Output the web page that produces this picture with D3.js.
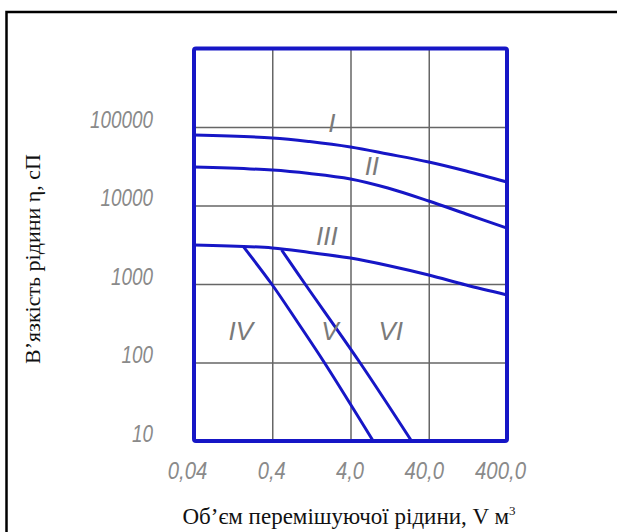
<!DOCTYPE html>
<html>
<head>
<meta charset="utf-8">
<script src="https://cdn.jsdelivr.net/npm/d3@7"></script>
<style>
  body { margin: 0; background: #fff; }
  svg { display: block; }
  .tick-lbl { font-family: "Liberation Sans", sans-serif; font-style: italic; fill: #8a8a8a; }
  .roman { font-family: "Liberation Sans", sans-serif; font-style: italic; fill: #7a7a7a; }
  .title { font-family: "Liberation Serif", serif; fill: #111; }
</style>
</head>
<body>
<div id="chart"></div>
<script>
// tick values and labels
const xTicks = [0.04, 0.4, 4, 40, 400];
const xTickLabels = ["0,04", "0,4", "4,0", "40,0", "400,0"];
const yTicks = [10, 100, 1000, 10000, 100000];
const yTickLabels = ["10", "100", "1000", "10000", "100000"];

// curves I, II, III (volume -> viscosity)
const xTop = [0.04, 0.4, 1.2, 4, 12, 40, 120, 400];
const curveI   = [79000, 72600, 65300, 55600, 45300, 35800, 27500, 19900];
const curveII  = [30900, 28300, 25600, 21800, 16700, 11400, 7800, 5160];
const curveIII = [3140, 2880, 2520, 2140, 1720, 1300, 970, 725];

// boundary lines between zones IV/V and V/VI
const xIVV  = [0.171, 0.393, 0.84, 1.85, 7.8];
const yIVV  = [2990, 1000, 328, 100, 10];
const xVVI  = [0.527, 1.05, 5.27, 24.1];
const yVVI  = [2710, 1000, 100, 10];

// zone labels
const romanLabels = ["I", "II", "III", "IV", "V", "VI"];
const romanX = [2.31, 7.5, 2.0, 0.159, 2.18, 13.1];
const romanY = [86300, 24500, 3140, 194, 194, 194];

const W = 617, H = 532;
const blue = "#1616c6";

const x = d3.scaleLog().domain([0.04, 400]).range([194, 507]);
const y = d3.scaleLog().domain([10, 1e6]).range([441, 48.5]);

const svg = d3.select("#chart").append("svg")
    .attr("width", W)
    .attr("height", H);

// outer frame (top and left only)
svg.append("path")
    .attr("d", "M6.5," + H + "V12H" + W)
    .attr("fill", "none")
    .attr("stroke", "#000")
    .attr("stroke-width", 2.5);

// gridlines
svg.append("g")
    .attr("transform", "translate(0,441)")
    .call(d3.axisBottom(x).tickValues([0.4, 4, 40]).tickSize(-(441 - 48.5)).tickFormat(""))
    .call(g => g.select(".domain").remove())
    .selectAll("line").attr("stroke", "#666").attr("stroke-width", 1.5);

svg.append("g")
    .attr("transform", "translate(194,0)")
    .call(d3.axisLeft(y).tickValues([100, 1000, 10000, 100000]).tickSize(-(507 - 194)).tickFormat(""))
    .call(g => g.select(".domain").remove())
    .selectAll("line").attr("stroke", "#666").attr("stroke-width", 1.5);

// curves
const line = d3.line()
    .x(d => x(d[0]))
    .y(d => y(d[1]))
    .curve(d3.curveCatmullRom.alpha(0.5));

[curveI, curveII, curveIII].forEach(c => {
    svg.append("path")
        .datum(xTop.map((v, i) => [v, c[i]]))
        .attr("d", line)
        .attr("fill", "none")
        .attr("stroke", blue)
        .attr("stroke-width", 3);
});

[[xIVV, yIVV], [xVVI, yVVI]].forEach(([xs, ys]) => {
    svg.append("path")
        .datum(xs.map((v, i) => [v, ys[i]]))
        .attr("d", line)
        .attr("fill", "none")
        .attr("stroke", blue)
        .attr("stroke-width", 3);
});

// plot border
svg.append("rect")
    .attr("x", x(0.04))
    .attr("y", y(1e6))
    .attr("width", x(400) - x(0.04))
    .attr("height", y(10) - y(1e6))
    .attr("rx", 2)
    .attr("fill", "none")
    .attr("stroke", blue)
    .attr("stroke-width", 4);

// y tick labels
svg.append("g")
    .attr("transform", "translate(194,0)")
    .call(d3.axisLeft(y).tickValues(yTicks).tickSize(0).tickPadding(41)
        .tickFormat((d, i) => yTickLabels[i]))
    .call(g => g.select(".domain").remove())
    .call(g => g.selectAll("line").remove())
    .selectAll("text")
    .attr("class", "tick-lbl")
    .attr("dy", 0)
    .attr("font-size", 24)
    .attr("textLength", (d, i) => yTickLabels[i].length * 10.5)
    .attr("lengthAdjust", "spacingAndGlyphs");

// x tick labels
svg.append("g")
    .attr("transform", "translate(0,441)")
    .call(d3.axisBottom(x).tickValues(xTicks).tickSize(0).tickPadding(38)
        .tickFormat((d, i) => xTickLabels[i]))
    .call(g => g.select(".domain").remove())
    .call(g => g.selectAll("line").remove())
    .selectAll("text")
    .attr("class", "tick-lbl")
    .attr("dy", 0)
    .attr("dx", (d, i) => (i === 0 || i === 4) ? -7 : (i === 3 ? -5 : -1))
    .attr("font-size", 24)
    .attr("textLength", (d, i) => xTickLabels[i].replace(",", "").length * 11.5 + 5)
    .attr("lengthAdjust", "spacingAndGlyphs");

// roman numerals
svg.selectAll(".roman")
    .data(romanLabels)
    .join("text")
    .attr("class", "roman")
    .attr("x", (d, i) => x(romanX[i]))
    .attr("y", (d, i) => y(romanY[i]))
    .attr("text-anchor", "middle")
    .attr("font-size", 26)
    .text(d => d);

// axis titles
svg.append("text")
    .attr("class", "title")
    .attr("transform", "translate(40,259) rotate(-90)")
    .attr("text-anchor", "middle")
    .attr("font-size", 22)
    .text("В’язкість рідини η, сП");

const xt = svg.append("text")
    .attr("class", "title")
    .attr("x", 349)
    .attr("y", 524)
    .attr("text-anchor", "middle")
    .attr("font-size", 23);
xt.append("tspan").text("Об’єм перемішуючої рідини, V м");
xt.append("tspan").attr("font-size", 13).attr("dy", -9).text("3");
</script>
</body>
</html>
